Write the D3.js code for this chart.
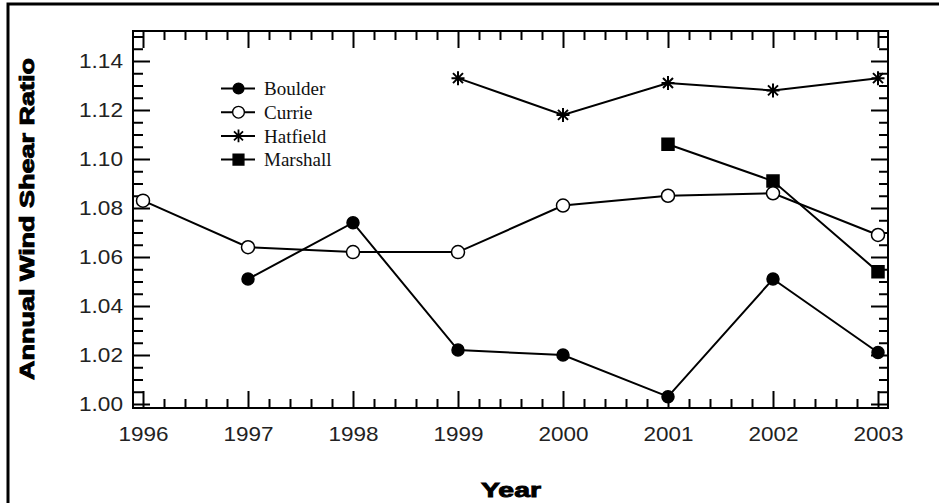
<!DOCTYPE html>
<html>
<head>
<meta charset="utf-8">
<script src="https://cdn.jsdelivr.net/npm/d3@7"></script>
<style>
  body { margin: 0; background: #fff; }
  svg { display: block; }
  .tick-label { font-family: "Liberation Sans", Arial, sans-serif; font-size: 20.5px; fill: #222; }
  .axis-title { font-family: "Liberation Sans", Arial, sans-serif; font-size: 20.5px; font-weight: bold; fill: #000; stroke: #000; stroke-width: 0.9px; }
  .legend text { font-family: "Liberation Serif", "Times New Roman", serif; font-size: 19px; fill: #111; }
</style>
</head>
<body>
<div id="chart"></div>
<script>
const years = [1996, 1997, 1998, 1999, 2000, 2001, 2002, 2003];
const boulder = [null, 1.051, 1.074, 1.022, 1.020, 1.003, 1.051, 1.021];
const currie = [1.083, 1.064, 1.062, 1.062, 1.081, 1.085, 1.086, 1.069];
const hatfield = [null, null, null, 1.133, 1.118, 1.131, 1.128, 1.133];
const marshall = [null, null, null, null, null, 1.106, 1.091, 1.054];
const seriesNames = ['Boulder', 'Currie', 'Hatfield', 'Marshall'];
const yTickValues = [1.00, 1.02, 1.04, 1.06, 1.08, 1.10, 1.12, 1.14];

const width = 939;
const height = 503;
const plot = { left: 133, right: 888, top: 31, bottom: 408 };

// symbol per series
const marker = {
  Boulder: { path: d3.symbol(d3.symbolCircle, 113)(), fill: '#000' },
  Currie: { path: d3.symbol(d3.symbolCircle, 133)(), fill: '#fff' },
  Hatfield: { path: 'M-6.5,0L6.5,0M0,-7L0,7M-5,-5L5,5M-5,5L5,-5', fill: 'none' },
  Marshall: { path: d3.symbol(d3.symbolSquare, 144)(), fill: '#000' },
};

const seriesValues = { Boulder: boulder, Currie: currie, Hatfield: hatfield, Marshall: marshall };

const xScale = d3.scaleLinear()
  .domain([1996 - 10 / 105, 2003 + 10 / 105])
  .range([plot.left, plot.right]);

const yScale = d3.scaleLinear()
  .domain([1 - 4 / 2450, 1.14 + 30 / 2450])
  .range([plot.bottom, plot.top]);

const svg = d3.select('#chart').append('svg')
  .attr('width', width)
  .attr('height', height);

svg.append('rect')
  .attr('width', width)
  .attr('height', height)
  .attr('fill', '#fff');

// outer frame (only left and top edges show in the picture)
svg.append('path')
  .attr('d', `M8,${height}L8,4L${width},4`)
  .attr('fill', 'none')
  .attr('stroke', '#000')
  .attr('stroke-width', 3);

const xMinor = d3.range(0, 36).map(i => 1996 + i * 0.2).filter(v => Math.abs(v - Math.round(v)) > 0.01);
const yMinor = d3.range(0, 31).map(i => 1 + i * 0.005)
  .filter(v => Math.abs(v * 50 - Math.round(v * 50)) > 0.01 && v <= yScale.domain()[1]);

function axisGroup(axis, tx, ty) {
  const g = svg.append('g')
    .attr('transform', `translate(${tx},${ty})`)
    .call(axis);
  g.select('.domain').remove();
  g.selectAll('line').attr('stroke', '#000').attr('stroke-width', 2);
  return g;
}

// bottom and top ticks
const xBottom = axisGroup(d3.axisBottom(xScale).tickValues(years).tickSize(-17).tickPadding(18).tickFormat(d3.format('d')), 0, plot.bottom);
axisGroup(d3.axisBottom(xScale).tickValues(xMinor).tickSize(-9).tickFormat(''), 0, plot.bottom);
axisGroup(d3.axisTop(xScale).tickValues(years).tickSize(-17).tickFormat(''), 0, plot.top);
axisGroup(d3.axisTop(xScale).tickValues(xMinor).tickSize(-9).tickFormat(''), 0, plot.top);

// left and right ticks
const yLeft = axisGroup(d3.axisLeft(yScale).tickValues(yTickValues).tickSize(-17).tickPadding(10).tickFormat(d3.format('.2f')), plot.left, 0);
axisGroup(d3.axisLeft(yScale).tickValues(yMinor).tickSize(-10).tickFormat(''), plot.left, 0);
axisGroup(d3.axisRight(yScale).tickValues(yTickValues).tickSize(-17).tickFormat(''), plot.right, 0);
axisGroup(d3.axisRight(yScale).tickValues(yMinor).tickSize(-9).tickFormat(''), plot.right, 0);

xBottom.selectAll('text')
  .attr('class', 'tick-label')
  .attr('textLength', 50)
  .attr('lengthAdjust', 'spacingAndGlyphs');

yLeft.selectAll('text')
  .attr('class', 'tick-label')
  .attr('textLength', 44)
  .attr('lengthAdjust', 'spacingAndGlyphs');

svg.selectAll('.tick text').attr('fill', '#222');

svg.append('rect')
  .attr('x', plot.left)
  .attr('y', plot.top)
  .attr('width', plot.right - plot.left)
  .attr('height', plot.bottom - plot.top)
  .attr('fill', 'none')
  .attr('stroke', '#000')
  .attr('stroke-width', 2);

// axis titles
svg.append('text')
  .attr('class', 'axis-title')
  .attr('x', 511)
  .attr('y', 497)
  .attr('text-anchor', 'middle')
  .attr('textLength', 60)
  .attr('lengthAdjust', 'spacingAndGlyphs')
  .text('Year');

svg.append('text')
  .attr('class', 'axis-title')
  .attr('transform', 'translate(34,219) rotate(-90)')
  .attr('text-anchor', 'middle')
  .attr('textLength', 322)
  .attr('lengthAdjust', 'spacingAndGlyphs')
  .text('Annual Wind Shear Ratio');

// series lines and markers
const line = d3.line()
  .defined(d => d.v !== null)
  .x(d => xScale(d.year))
  .y(d => yScale(d.v));

const drawOrder = ['Hatfield', 'Marshall', 'Boulder', 'Currie'];
drawOrder.forEach((name) => {
  const pts = years.map((year, i) => ({ year, v: seriesValues[name][i] }));
  const g = svg.append('g').attr('class', name);

  g.append('path')
    .datum(pts)
    .attr('d', line)
    .attr('fill', 'none')
    .attr('stroke', '#000')
    .attr('stroke-width', 2);

  g.selectAll('.pt')
    .data(pts.filter(d => d.v !== null))
    .enter().append('path')
    .attr('class', 'pt')
    .attr('transform', d => `translate(${xScale(d.year)},${yScale(d.v)})`)
    .attr('d', marker[name].path)
    .attr('fill', marker[name].fill)
    .attr('stroke', '#000')
    .attr('stroke-width', name === 'Hatfield' ? 2 : 1.5);
});

// legend
const legend = svg.append('g')
  .attr('class', 'legend')
  .attr('transform', 'translate(221,88.5)');

const row = legend.selectAll('.row')
  .data(seriesNames)
  .enter().append('g')
  .attr('class', 'row')
  .attr('transform', (d, i) => `translate(0,${i * 23.7})`);

row.append('line')
  .attr('x1', 0)
  .attr('x2', 34)
  .attr('stroke', '#000')
  .attr('stroke-width', 2);

row.append('path')
  .attr('transform', 'translate(17.5,0) scale(0.9)')
  .attr('d', d => marker[d].path)
  .attr('fill', d => marker[d].fill)
  .attr('stroke', '#000')
  .attr('stroke-width', d => (d === 'Hatfield' ? 2 : 1.5));

row.append('text')
  .attr('x', 43)
  .attr('dy', '0.35em')
  .text(d => d);
</script>
</body>
</html>
